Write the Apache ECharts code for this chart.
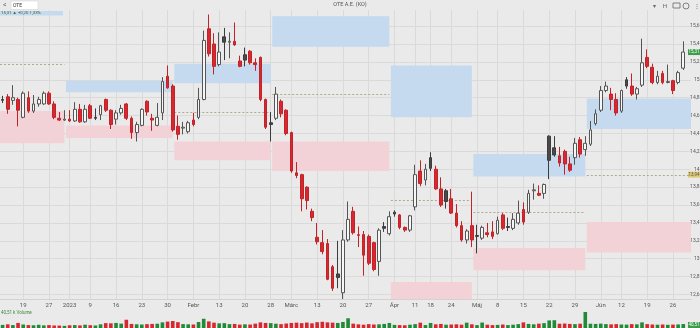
<!DOCTYPE html>
<html><head><meta charset="utf-8">
<script src="https://cdn.jsdelivr.net/npm/echarts@6/dist/echarts.min.js"></script>
<style>html,body{margin:0;padding:0;background:#eaeaea}#c{width:700px;height:328px}</style>
</head><body><div id="c"></div>
<script>
// ---- trading days (categories) ----
const tradingDays = {
  '2022-12': [13,14,15,16,19,20,21,22,23,27,28,29,30],
  '2023-01': [2,3,4,5,9,10,11,12,13,16,17,18,19,20,23,24,25,26,27,30,31],
  '2023-02': [1,2,3,6,7,8,9,10,13,14,15,16,17,20,21,22,23,24,28],
  '2023-03': [1,2,3,6,7,8,9,10,13,14,15,16,17,20,21,22,23,24,27,28,29,30,31],
  '2023-04': [3,4,5,6,11,12,13,18,19,20,21,24,25,26,27,28],
  '2023-05': [2,3,4,5,8,9,10,11,12,15,16,17,18,19,22,23,24,25,26,29,30,31],
  '2023-06': [1,2,6,7,8,9,12,13,14,15,16,19,20,21,22,23,26,27,28,29]
};
const dates = [];
for (const m in tradingDays) for (const d of tradingDays[m]) dates.push(m + '-' + String(d).padStart(2, '0'));

const tickLabels = {
  '2022-12-19':'19','2022-12-27':'27','2023-01-02':'2023','2023-01-09':'9','2023-01-16':'16',
  '2023-01-23':'23','2023-01-30':'30','2023-02-06':'Febr','2023-02-13':'13','2023-02-20':'20',
  '2023-02-28':'28','2023-03-06':'Márc','2023-03-13':'13','2023-03-20':'20','2023-03-27':'27',
  '2023-04-03':'Ápr','2023-04-11':'11','2023-04-18':'18','2023-04-24':'24','2023-05-02':'Máj',
  '2023-05-08':'8','2023-05-15':'15','2023-05-22':'22','2023-05-29':'29','2023-06-06':'Jún',
  '2023-06-12':'12','2023-06-19':'19','2023-06-26':'26'
};
const priceTicks = [12.6,12.8,13,13.2,13.4,13.6,13.8,14,14.2,14.4,14.6,14.8,15,15.2,15.4,15.6];

// ---- OHLC ----
const opens = [
 14.78,14.81,14.77,14.78,14.58,14.80,14.65,14.73,14.73,14.85,14.73,14.57,14.55,
 14.56,14.54,14.67,14.53,14.71,14.58,14.61,14.78,14.66,14.56,14.63,14.73,14.57,14.41,14.49,14.76,14.57,14.49,14.63,15.04,14.93,
 14.48,14.46,14.42,14.55,14.58,14.78,15.57,15.40,15.17,15.48,15.42,15.43,15.21,15.28,15.32,15.19,15.25,14.78,14.52,
 14.57,14.76,14.66,14.41,13.96,13.94,13.80,13.53,13.24,13.18,13.17,12.91,12.83,12.62,13.21,13.53,13.26,13.27,13.25,13.18,12.97,13.36,13.28,
 13.52,13.49,13.35,13.32,13.58,13.98,13.88,14.13,14.00,13.78,13.76,13.67,13.51,13.37,13.21,13.37,
 13.26,13.23,13.29,13.30,13.28,13.49,13.36,13.34,13.40,13.55,13.52,13.76,13.73,13.73,14.37,14.24,14.15,14.20,14.06,14.13,14.33,14.22,
 14.28,14.51,14.66,14.88,14.84,14.78,14.65,15.00,14.93,14.84,14.94,15.25,15.14,14.97,15.07,14.97,14.99,14.97,15.13
];
const highs = [
 14.82,14.84,14.94,14.80,14.87,14.87,14.83,14.81,14.87,14.87,14.76,14.64,14.66,
 14.66,14.75,14.73,14.72,14.73,14.68,14.72,14.79,14.67,14.66,14.72,14.74,14.59,14.53,14.68,14.77,14.62,14.74,15.03,15.16,14.95,
 14.60,14.53,14.54,14.63,14.91,15.55,15.73,15.52,15.53,15.58,15.53,15.64,15.27,15.36,15.33,15.24,15.26,14.79,14.64,
 14.92,14.78,14.67,14.42,14.08,13.95,13.81,13.56,13.40,13.32,13.22,12.93,13.20,13.32,13.64,13.58,13.36,13.31,13.27,13.19,13.34,13.41,13.53,
 13.54,13.50,13.36,13.49,14.05,14.10,14.06,14.19,14.04,13.91,13.78,13.78,13.61,13.42,13.33,13.75,
 13.38,13.37,13.40,13.42,13.47,13.51,13.46,13.51,13.65,13.63,13.77,13.84,13.82,13.84,14.38,14.37,14.25,14.22,14.14,14.35,14.36,14.37,
 14.54,14.67,14.93,14.98,14.91,14.85,14.89,15.03,15.07,14.92,15.46,15.34,15.18,15.10,15.10,15.17,15.00,15.10,15.43
];
const lows = [
 14.74,14.62,14.72,14.48,14.57,14.63,14.63,14.70,14.72,14.72,14.56,14.54,14.54,
 14.53,14.53,14.52,14.52,14.56,14.55,14.55,14.64,14.45,14.50,14.61,14.55,14.34,14.31,14.48,14.60,14.43,14.48,14.55,14.90,14.42,
 14.33,14.39,14.40,14.48,14.56,14.77,15.26,15.06,15.15,15.22,15.24,15.38,15.14,15.15,15.17,15.10,14.76,14.45,14.31,
 14.55,14.58,14.38,13.96,13.90,13.53,13.55,13.42,13.16,13.05,12.76,12.64,12.67,12.55,13.19,13.27,13.13,12.81,12.93,12.86,12.81,13.30,13.26,
 13.47,13.33,13.30,13.30,13.54,13.81,13.82,13.98,13.77,13.58,13.56,13.50,13.35,13.19,13.17,13.13,
 13.06,13.21,13.24,13.22,13.27,13.32,13.31,13.32,13.38,13.38,13.50,13.66,13.70,13.67,13.89,14.14,14.03,13.94,13.97,14.05,14.13,14.15,
 14.26,14.49,14.64,14.86,14.66,14.60,14.63,14.90,14.82,14.78,14.92,15.13,14.95,14.95,14.95,14.96,14.84,14.95,15.11
];
const closes = [
 14.77,14.67,14.80,14.66,14.85,14.65,14.73,14.78,14.85,14.73,14.58,14.55,14.56,
 14.54,14.67,14.53,14.67,14.57,14.57,14.71,14.66,14.50,14.63,14.68,14.57,14.41,14.50,14.67,14.64,14.55,14.58,14.98,14.91,14.44,
 14.39,14.47,14.52,14.50,14.78,15.44,15.29,15.15,15.31,15.42,15.43,15.39,15.15,15.22,15.19,15.17,14.78,14.47,14.50,
 14.84,14.62,14.40,13.98,13.93,13.67,13.65,13.46,13.19,13.08,12.77,12.67,12.79,13.21,13.44,13.29,13.27,13.04,12.95,12.88,13.32,13.34,13.47,
 13.50,13.35,13.32,13.48,13.94,13.84,14.00,14.01,13.78,13.60,13.64,13.51,13.37,13.21,13.31,13.21,
 13.25,13.35,13.27,13.25,13.43,13.34,13.35,13.44,13.51,13.41,13.73,13.77,13.71,13.83,14.10,14.16,14.07,14.06,13.99,14.29,14.17,14.29,
 14.44,14.62,14.88,14.93,14.78,14.63,14.88,14.93,14.84,14.90,15.19,15.15,14.97,15.04,14.97,14.98,14.88,15.08,15.31
];
// volume in thousands
const volumes = [
 32,38,30,52,36,30,28,33,27,30,26,25,22,
 28,30,27,34,29,26,38,50,48,52,45,85,42,38,36,40,42,44,58,66,72,
 60,40,38,36,62,95,68,55,48,50,40,42,35,38,36,45,58,52,50,
 44,40,46,52,55,50,56,48,60,64,58,55,52,62,100,45,38,34,40,36,38,42,52,
 32,30,28,34,40,55,30,52,38,42,34,36,38,34,55,38,
 30,56,34,30,32,36,30,34,40,58,42,38,45,50,78,80,44,46,42,40,44,165,
 44,42,45,40,38,40,36,35,40,38,58,40,36,34,36,33,35,37,40.51
];

// ---- monthly zones ----
const zoneStart = [null,'2022-12-30','2023-01-31','2023-02-28','2023-03-31','2023-04-28','2023-05-31'];
const zoneEnd   = ['2022-12-30','2023-01-31','2023-02-28','2023-03-31','2023-04-28','2023-05-31',null];
const supplyTop    = [null,14.99,15.18,15.71,15.16,14.17,14.79];
const supplyBottom = [null,14.86,14.96,15.37,14.58,13.92,14.45];
const demandTop    = [14.65,14.49,14.31,14.31,12.74,13.12,13.41];
const demandBottom = [14.29,14.35,14.10,13.98,12.50,12.87,13.07];
const pivots       = [15.18,null,14.64,14.84,13.66,13.52,13.94];

// ---- build ----
const N = dates.length;
const FONT = 'Roboto, "Liberation Sans", sans-serif';
const RED = '#d7282f', RED_B = '#c22329', DARK = '#4a4a4a', DARK_B = '#3c3c3c', HOLLOW = '#f6f6f6', HOLLOW_B = '#555';
const GREEN = '#1f8a38';
const fmt = v => String(Math.round(v * 100) / 100).replace('.', ',');

const candleData = dates.map((d, i) => {
  if (i >= closes.length) return '-';
  const o = opens[i], c = closes[i], prev = i > 0 ? closes[i - 1] : c;
  let fill, stroke;
  if (c >= o) { fill = HOLLOW; stroke = c < prev ? RED_B : HOLLOW_B; }
  else if (c >= prev) { fill = DARK; stroke = DARK_B; }
  else { fill = RED; stroke = RED_B; }
  return { value: [o, c, lows[i], highs[i]], itemStyle: { color: fill, color0: fill, borderColor: stroke, borderColor0: stroke } };
});
const volData = volumes.map((v, i) => {
  const prev = i > 0 ? closes[i - 1] : closes[i];
  return { value: v, itemStyle: { color: closes[i] >= prev ? GREEN : RED } };
});

const idxOf = d => dates.indexOf(d);
const zoneData = [], pivotData = [];
for (let k = 0; k < zoneEnd.length; k++) {
  const x1 = zoneStart[k] ? idxOf(zoneStart[k]) + 0.8 : 0;
  const x2 = zoneEnd[k] ? idxOf(zoneEnd[k]) + 0.5 : N;
  if (supplyTop[k] != null) zoneData.push([x1, x2, supplyTop[k], supplyBottom[k], 0]);
  zoneData.push([x1, x2, demandTop[k], demandBottom[k], 1]);
  if (pivots[k] != null) pivotData.push([x1, x2, pivots[k]]);
}
const gridXs = dates.map((d, i) => tickLabels[d] ? i + 0.5 : null).filter(v => v != null);

const chart = echarts.init(document.getElementById('c'), null, { renderer: 'canvas' });
chart.setOption({
  animation: false,
  backgroundColor: '#eaeaea',
  textStyle: { fontFamily: FONT },
  grid: [
    { left: 0, right: 9, top: 10, bottom: 29, outerBoundsMode: 'none', containLabel: false },
    { left: 0, right: 9, top: 311, bottom: 0, outerBoundsMode: 'none', containLabel: false }
  ],
  xAxis: [
    { type: 'category', gridIndex: 0, data: dates, boundaryGap: true,
      axisLine: { show: true, lineStyle: { color: '#d2d2d2' } }, axisTick: { show: false },
      axisLabel: { interval: (i, v) => !!tickLabels[v], formatter: v => tickLabels[v] || '', fontSize: 6, color: '#555', margin: 3, fontFamily: FONT },
      splitLine: { show: false } },
    { type: 'value', gridIndex: 0, min: 0, max: N, position: 'top',
      axisLine: { show: false }, axisLabel: { show: false }, axisTick: { show: false, customValues: gridXs },
      splitLine: { show: true, lineStyle: { color: '#dadada', width: 1 } } },
    { type: 'category', gridIndex: 1, data: dates, boundaryGap: true, show: false }
  ],
  yAxis: [
    { type: 'value', gridIndex: 0, position: 'right', min: 12.55, max: 15.78, scale: true,
      axisLine: { show: false }, axisTick: { show: false, customValues: priceTicks },
      axisLabel: { customValues: priceTicks, formatter: v => fmt(v), fontSize: 5, color: '#555', margin: 8.5, align: 'right', fontFamily: FONT },
      splitLine: { show: true, lineStyle: { color: '#dadada', width: 1 } } },
    { type: 'value', gridIndex: 1, min: 0, max: 175, show: false }
  ],
  series: [
    { type: 'custom', name: 'zones', xAxisIndex: 1, yAxisIndex: 0, z: 1, silent: true,
      data: zoneData, encode: { x: [0, 1], y: [2, 3] },
      renderItem: (params, api) => {
        const a = api.coord([api.value(0), api.value(2)]);
        const b = api.coord([api.value(1), api.value(3)]);
        const cs = params.coordSys;
        const shape = echarts.graphic.clipRectByRect(
          { x: a[0], y: a[1], width: b[0] - a[0], height: b[1] - a[1] },
          { x: cs.x, y: cs.y, width: cs.width, height: cs.height });
        return shape ? { type: 'rect', shape, style: { fill: api.value(4) === 0 ? '#c5d9ef' : '#f2d2d6' } } : null;
      } },
    { type: 'custom', name: 'pivots', xAxisIndex: 1, yAxisIndex: 0, z: 2, silent: true,
      data: pivotData, encode: { x: [0, 1], y: 2 },
      renderItem: (params, api) => {
        const a = api.coord([api.value(0), api.value(2)]);
        const b = api.coord([api.value(1), api.value(2)]);
        const y = Math.round(a[1]) + 0.5;
        return { type: 'line', shape: { x1: a[0], y1: y, x2: b[0], y2: y }, style: { stroke: '#a99d74', lineWidth: 1, lineDash: [2, 2], opacity: 0.85 } };
      } },
    { type: 'candlestick', name: 'OTE', xAxisIndex: 0, yAxisIndex: 0, z: 3, barWidth: 3.2, clip: false,
      itemStyle: { borderWidth: 1 }, data: candleData },
    { type: 'bar', name: 'Volume', xAxisIndex: 2, yAxisIndex: 1, barWidth: 3.6, data: volData }
  ]
});

const yLast = chart.convertToPixel({ yAxisIndex: 0 }, closes[closes.length - 1]);
const yPiv = chart.convertToPixel({ yAxisIndex: 0 }, pivots[pivots.length - 1]);
const tag = (y, text, fill, color) => ({
  type: 'group', children: [
    { type: 'rect', shape: { x: 688, y: y - 3, width: 12, height: 6 }, style: { fill } },
    { type: 'text', x: 694, y: y, style: { text, fill: color, fontSize: 4.5, fontFamily: FONT, align: 'center', verticalAlign: 'middle' } }
  ] });
chart.setOption({
  graphic: [
    { type: 'text', x: 350, y: 5, style: { text: 'OTE A.E. (KO)', fill: '#555', fontSize: 5.5, fontFamily: FONT, align: 'center', verticalAlign: 'middle' } },
    { type: 'text', x: 3, y: 5.5, style: { text: '<', fill: '#666', fontSize: 7, fontFamily: FONT, verticalAlign: 'middle' } },
    { type: 'rect', shape: { x: 11, y: 1, width: 27, height: 8.5 }, style: { fill: '#fff', stroke: '#cfcfcf', lineWidth: 0.5 } },
    { type: 'text', x: 13, y: 5.3, style: { text: 'OTE', fill: '#333', fontSize: 5, fontFamily: FONT, verticalAlign: 'middle' } },
    { type: 'rect', shape: { x: 0, y: 11, width: 63, height: 4.5 }, style: { fill: '#c5d9ef' } },
    { type: 'text', x: 1, y: 13.3, style: { text: '15,31 ▲ +0,20 1,33%', fill: '#2f6b3a', fontSize: 4.3, fontFamily: FONT, verticalAlign: 'middle' } },
    { type: 'text', x: 654, y: 6, style: { text: '▾', fill: '#666', fontSize: 6, fontFamily: FONT, align: 'center', verticalAlign: 'middle' } },
    { type: 'text', x: 665, y: 6, style: { text: 'H', fill: '#666', fontSize: 6, fontFamily: FONT, align: 'center', verticalAlign: 'middle' } },
    { type: 'rect', shape: { x: 673, y: 3, width: 7, height: 5 }, style: { fill: 'none', stroke: '#666', lineWidth: 0.8 } },
    { type: 'circle', shape: { cx: 686, cy: 6, r: 3 }, style: { fill: 'none', stroke: '#666', lineWidth: 0.8 } },
    { type: 'text', x: 697, y: 6, style: { text: '⋮', fill: '#666', fontSize: 6, fontFamily: FONT, align: 'center', verticalAlign: 'middle' } },
    { type: 'text', x: 1, y: 312.5, style: { text: '40,51 k Volume', fill: '#3a8a3a', fontSize: 4.5, fontFamily: FONT, verticalAlign: 'middle' } },
    tag(yLast, fmt(closes[closes.length - 1]), '#3c9a4a', '#fff'),
    tag(yPiv, fmt(pivots[pivots.length - 1]), '#e0cb78', '#555'),
    tag(325, '40,51', '#3c9a4a', '#fff')
  ]
});
</script>
</body></html>
